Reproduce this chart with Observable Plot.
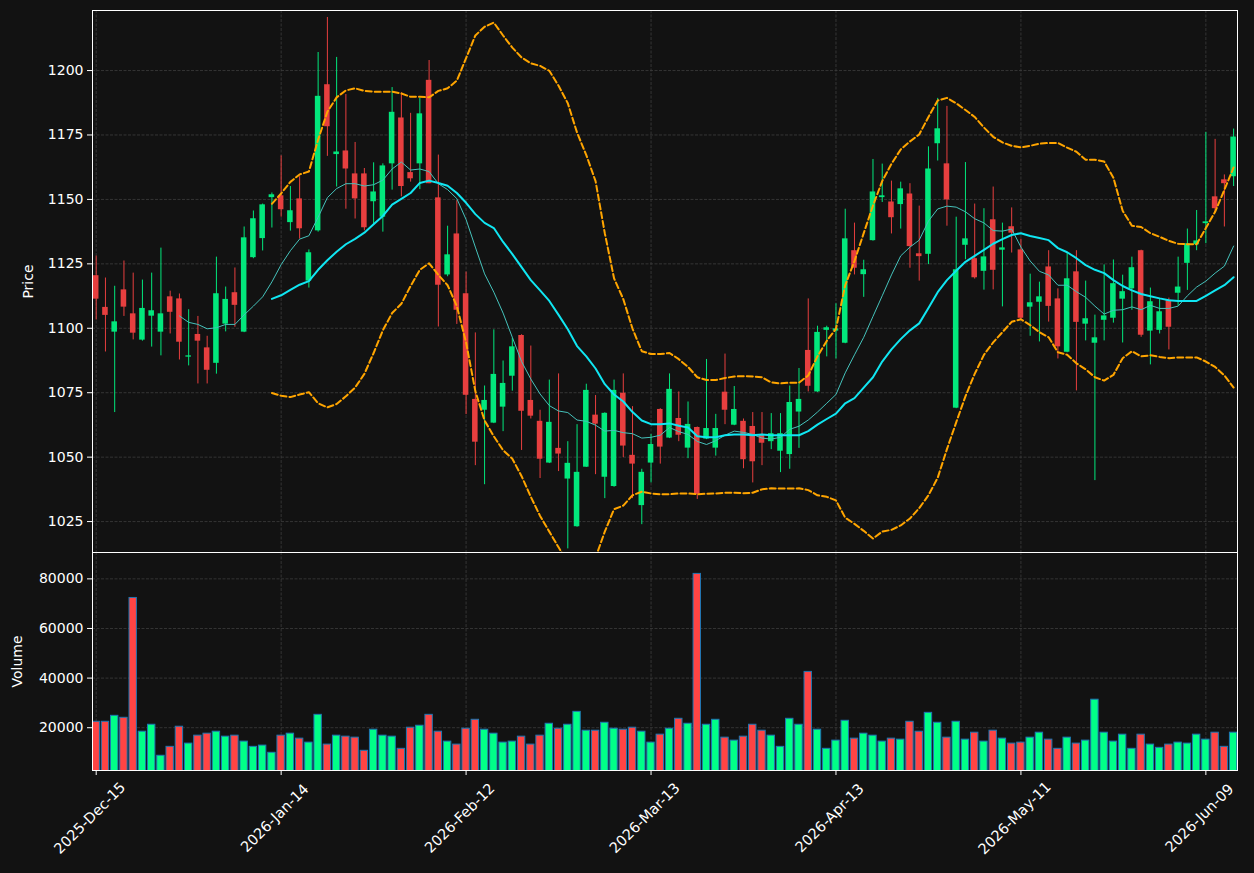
<!DOCTYPE html>
<html>
<head>
<meta charset="utf-8">
<script src="https://cdn.jsdelivr.net/npm/d3@7"></script>
<script src="https://cdn.jsdelivr.net/npm/@observablehq/plot@0.6"></script>
<style>
  html, body { margin: 0; padding: 0; background: #121212; }
  #chart { width: 1254px; height: 873px; background: #121212; }
  #chart svg { display: block; }
</style>
</head>
<body>
<div id="chart"></div>
<script>
// ---- data ----
const tickIndex = [0, 20, 40, 60, 80, 100, 120];
const tickLabels = ["2025-Dec-15", "2026-Jan-14", "2026-Feb-12", "2026-Mar-13", "2026-Apr-13", "2026-May-11", "2026-Jun-09"];
const priceTicks = [1025, 1050, 1075, 1100, 1125, 1150, 1175, 1200];
const volumeTicks = [20000, 40000, 60000, 80000];

const open = [1120.4,1108.1,1098.5,1114.9,1105.6,1095.4,1104.7,1098.5,1112.2,1111.4,
1088.8,1097.6,1092.4,1086.4,1101.6,1113.8,1098.5,1127.4,1134.8,1150.7,
1151.4,1141.0,1150.2,1118.3,1137.8,1194.5,1167.4,1168.8,1159.9,1159.9,
1149.1,1143.1,1163.8,1181.6,1160.4,1163.8,1196.2,1150.6,1120.7,1136.6,
1113.4,1072.4,1068.2,1063.2,1069.4,1081.4,1097.2,1072.0,1063.9,1047.7,
1053.4,1041.5,1023.0,1046.1,1066.3,1042.2,1038.6,1074.8,1050.7,1031.2,
1047.7,1068.5,1057.4,1065.0,1053.5,1061.5,1057.0,1053.5,1075.2,1062.4,
1063.9,1061.9,1058.5,1056.0,1052.3,1051.0,1067.5,1091.4,1075.3,1099.2,
1098.9,1094.2,1130.1,1120.8,1134.0,1150.7,1149.0,1148.0,1152.1,1128.9,
1128.7,1171.6,1163.8,1069.0,1132.2,1127.0,1122.1,1142.1,1130.3,1139.4,
1130.4,1108.2,1110.1,1123.8,1111.4,1090.7,1121.9,1101.6,1094.2,1103.1,
1103.9,1111.3,1115.3,1130.1,1098.9,1099.2,1110.9,1113.6,1125.2,1132.4,
1140.6,1151.0,1157.6,1158.8];
const high = [1128.0,1119.5,1116.3,1126.1,1121.4,1118.7,1121.4,1131.1,1114.4,1113.3,
1107.2,1104.6,1096.9,1127.6,1116.0,1123.4,1139.3,1145.5,1148.2,1152.5,
1166.9,1155.0,1158.8,1130.4,1207.0,1220.6,1205.1,1190.7,1172.1,1162.0,
1164.2,1163.8,1193.4,1191.4,1183.4,1189.2,1203.9,1167.2,1139.6,1149.5,
1121.8,1098.2,1077.6,1099.4,1087.3,1096.2,1097.5,1093.1,1068.2,1079.9,
1082.3,1056.0,1062.6,1078.3,1073.9,1067.2,1079.9,1082.3,1069.6,1045.3,
1058.8,1068.8,1082.3,1075.3,1071.4,1061.7,1087.9,1066.6,1090.0,1077.4,
1064.8,1067.3,1067.3,1066.9,1066.9,1077.6,1084.4,1111.4,1100.8,1100.8,
1109.5,1146.2,1140.8,1126.4,1165.5,1163.7,1157.1,1156.7,1156.1,1147.4,
1170.4,1189.2,1186.1,1143.1,1164.3,1148.2,1146.4,1154.8,1140.8,1146.7,
1134.6,1121.0,1117.9,1130.1,1115.3,1129.2,1130.1,1118.3,1105.1,1124.6,
1126.5,1120.6,1127.6,1130.3,1115.6,1111.6,1111.7,1127.6,1138.5,1145.7,
1176.0,1173.3,1159.5,1177.3];
const low = [1103.2,1090.8,1067.3,1104.6,1095.5,1095.0,1092.7,1089.3,1097.8,1087.7,
1085.4,1078.4,1078.4,1082.2,1098.6,1100.4,1098.3,1127.0,1130.0,1138.9,
1143.1,1137.7,1134.6,1115.6,1137.3,1166.7,1154.8,1146.2,1142.4,1137.8,
1140.4,1137.3,1153.6,1151.0,1156.7,1153.8,1156.1,1100.5,1120.0,1101.5,
1066.5,1046.7,1039.3,1063.0,1059.9,1075.6,1052.6,1064.8,1041.7,1047.5,
1044.4,1014.4,1022.8,1046.0,1043.2,1033.9,1038.3,1049.8,1033.9,1023.8,
1040.0,1047.3,1057.2,1056.0,1049.4,1033.6,1056.8,1050.4,1062.6,1062.2,
1045.5,1040.0,1046.7,1052.9,1044.0,1045.3,1053.4,1075.3,1075.1,1088.9,
1088.1,1094.0,1120.7,1112.0,1133.8,1148.8,1136.6,1138.5,1123.3,1118.3,
1124.7,1164.9,1139.6,1068.8,1126.6,1119.1,1114.8,1114.9,1108.3,1129.2,
1103.2,1096.9,1094.7,1102.4,1088.1,1090.5,1075.7,1095.1,1040.9,1095.1,
1102.0,1094.3,1107.0,1096.5,1085.8,1097.8,1091.6,1108.6,1114.7,1130.1,
1132.8,1144.7,1139.3,1155.0];
const close = [1111.3,1105.0,1102.5,1108.2,1098.1,1107.7,1106.8,1105.6,1106.2,1094.6,
1089.3,1095.0,1083.7,1113.4,1111.2,1108.9,1135.1,1142.5,1147.9,1151.8,
1146.0,1145.6,1138.6,1129.3,1190.0,1178.2,1168.4,1161.8,1150.2,1139.0,
1152.9,1163.0,1183.8,1155.0,1158.0,1183.2,1156.1,1116.7,1128.5,1107.0,
1074.0,1055.8,1072.0,1082.1,1078.6,1092.8,1067.8,1065.9,1049.2,1063.5,
1051.2,1047.6,1044.1,1075.9,1062.8,1067.0,1075.9,1054.3,1047.3,1044.1,
1054.9,1053.9,1076.3,1058.5,1062.7,1035.5,1061.1,1061.1,1068.2,1068.5,
1049.0,1048.2,1055.4,1059.1,1059.1,1071.2,1072.4,1077.5,1098.4,1100.2,
1099.8,1134.7,1123.3,1122.7,1152.9,1151.4,1142.9,1154.1,1131.7,1127.8,
1161.8,1177.4,1149.8,1122.7,1134.7,1119.6,1127.7,1122.5,1131.2,1136.9,
1103.9,1109.9,1112.2,1108.5,1092.8,1119.2,1102.3,1103.7,1096.3,1104.8,
1117.3,1114.2,1123.5,1097.3,1110.3,1106.4,1100.4,1116.0,1132.8,1133.9,
1141.3,1146.4,1156.1,1174.2];
const volume = [22400,22400,24800,24000,72300,18400,21200,8700,12300,20400,
13600,16800,17600,18400,16400,16800,14400,12300,12800,9900,
16800,17600,15600,14000,25200,13200,16800,16400,16000,10700,
19200,16800,16400,11500,20000,20800,25200,18400,14400,13200,
19600,23200,19200,17600,14000,14400,16400,13200,16800,21600,
19600,21200,26400,18800,18800,22000,19600,19200,20000,18400,
14000,17200,19600,23600,21600,82000,21200,23200,16000,14800,
16400,21200,18800,16800,12300,23600,21200,42500,19200,11500,
14800,22800,15600,17600,16800,14400,15600,15200,22400,18400,
26000,22000,16000,22400,15200,18000,14400,18800,15600,13600,
14000,16000,18000,15200,11500,16000,13600,14800,31300,18000,
14400,17200,11500,17200,13200,11900,13200,14000,13600,17200,
15200,18000,12300,18000];
const ma10 = [null,null,null,null,null,null,null,null,null,1104.8,
1102.3,1101.5,1099.8,1100.2,1101.5,1101.5,1105.2,1108.6,1112.2,1118.0,
1124.7,1130.1,1134.6,1135.9,1143.1,1150.7,1154.2,1156.1,1156.1,1155.2,
1155.7,1157.5,1161.8,1164.5,1161.4,1161.8,1160.8,1156.1,1153.8,1150.3,
1142.2,1131.5,1121.1,1114.0,1105.9,1096.5,1087.1,1080.3,1074.5,1070.0,
1067.9,1067.3,1064.4,1063.9,1062.4,1060.1,1060.4,1059.5,1059.1,1057.4,
1057.7,1058.5,1061.5,1059.9,1058.8,1056.1,1054.9,1056.4,1058.5,1060.1,
1059.6,1058.8,1057.4,1057.0,1057.7,1060.8,1062.0,1064.4,1067.5,1070.9,
1074.3,1082.7,1089.7,1096.5,1104.6,1112.6,1120.7,1128.1,1131.5,1134.2,
1141.6,1146.3,1147.4,1147.0,1145.2,1142.5,1140.9,1137.9,1137.7,1138.5,
1131.5,1126.1,1122.1,1120.7,1116.7,1116.7,1114.2,1112.0,1108.6,1105.5,
1107.0,1107.2,1108.3,1107.2,1108.9,1107.7,1107.7,1108.6,1112.6,1116.0,
1118.3,1121.4,1124.1,1131.9];
const ma20 = [null,null,null,null,null,null,null,null,null,null,
null,null,null,null,null,null,null,null,null,1111.4,
1112.8,1114.9,1116.9,1118.3,1122.7,1126.4,1129.7,1132.6,1134.7,1137.1,
1140.4,1143.6,1148.0,1150.2,1152.5,1156.4,1157.3,1156.4,1155.3,1152.5,
1148.7,1144.3,1140.9,1138.9,1133.5,1128.8,1123.7,1118.7,1114.7,1110.6,
1105.2,1099.6,1093.1,1089.1,1084.4,1078.3,1074.3,1071.6,1067.5,1064.2,
1062.8,1062.8,1063.1,1062.2,1061.5,1058.1,1057.7,1057.7,1058.5,1058.8,
1058.8,1058.5,1058.8,1058.5,1058.5,1058.5,1058.5,1060.1,1062.6,1064.8,
1066.9,1070.9,1072.9,1077.0,1081.0,1087.1,1091.8,1095.8,1099.2,1101.9,
1107.9,1114.0,1118.7,1122.3,1125.8,1128.1,1130.4,1132.8,1134.6,1136.2,
1136.9,1135.8,1135.0,1134.2,1131.1,1129.5,1127.2,1124.5,1122.7,1121.4,
1118.7,1116.4,1114.7,1113.3,1112.4,1111.6,1110.9,1110.6,1110.6,1110.6,
1112.6,1114.7,1116.7,1119.8];
const bandUpper = [null,null,null,null,null,null,null,null,null,null,
null,null,null,null,null,null,null,null,null,1148.3,
1152.3,1156.8,1159.7,1160.8,1173.2,1184.0,1189.6,1192.3,1193.1,1192.1,
1191.8,1191.8,1191.8,1191.1,1189.8,1189.8,1189.6,1192.1,1193.1,1196.1,
1204.8,1213.6,1217.0,1218.6,1213.6,1208.9,1205.1,1202.8,1201.8,1199.9,
1194.1,1187.3,1175.9,1167.2,1157.1,1136.9,1119.4,1111.3,1099.8,1091.1,
1090.0,1090.0,1090.4,1088.0,1085.0,1081.0,1079.9,1079.9,1080.7,1081.3,
1081.4,1081.3,1081.0,1079.0,1078.6,1078.9,1078.9,1081.7,1089.1,1095.1,
1099.8,1116.7,1126.1,1136.9,1147.6,1157.1,1163.8,1169.4,1172.5,1175.2,
1182.0,1188.4,1189.4,1187.3,1184.7,1182.0,1177.9,1174.3,1172.1,1170.8,
1170.2,1170.8,1171.6,1171.9,1171.9,1170.1,1168.5,1165.4,1165.4,1164.7,
1158.4,1145.6,1139.8,1139.3,1136.9,1135.5,1133.9,1132.8,1132.6,1132.6,
1138.9,1145.2,1153.7,1162.4];
const bandLower = [null,null,null,null,null,null,null,null,null,null,
null,null,null,null,null,null,null,null,null,1074.9,
1073.8,1073.3,1074.3,1075.2,1070.9,1069.3,1070.6,1073.6,1077.0,1082.3,
1090.4,1099.2,1105.9,1109.5,1116.4,1122.7,1125.2,1120.7,1116.7,1108.6,
1094.5,1075.6,1064.2,1058.1,1052.7,1049.4,1042.6,1034.6,1027.2,1021.1,
1015.0,1009.0,1006.0,1008.0,1011.0,1021.1,1029.8,1031.2,1035.2,1036.6,
1035.9,1035.6,1035.6,1035.9,1035.9,1035.6,1035.8,1035.9,1036.2,1036.2,
1036.0,1036.2,1037.5,1037.9,1037.8,1037.8,1037.9,1037.2,1035.2,1034.6,
1033.2,1026.5,1024.1,1021.4,1018.4,1021.1,1021.8,1023.5,1026.2,1030.2,
1035.2,1042.0,1053.1,1063.5,1073.6,1082.3,1089.7,1094.5,1098.5,1102.5,
1103.5,1101.2,1098.5,1096.5,1090.7,1089.7,1086.4,1084.1,1081.0,1079.7,
1081.9,1088.4,1091.1,1089.1,1089.5,1088.9,1088.4,1088.7,1088.7,1088.7,
1087.1,1085.0,1081.7,1077.0];

// ---- styling ----
const BG = "#121212";
const FG = "#ffffff";
const GRID = "#3d3d3d";
const candleUp = "#02e77c", candleDown = "#e73f3f";
const volUp = "#00ff88", volDown = "#ff4444";
const FONT = "DejaVu Sans, sans-serif";

const idx = d3.range(open.length);
const isUp = i => close[i] >= open[i];
const xDomain = [-0.4, 123.42];
const W = 1254, ML = 92, MR = 17;

const gridStyle = {stroke: GRID, strokeOpacity: 1, strokeWidth: 0.8, strokeDasharray: "3,1.5"};
const plain = d => String(d);

const pricePlot = Plot.plot({
  width: W, height: 552,
  marginTop: 10, marginBottom: 0, marginLeft: ML, marginRight: MR,
  style: {background: BG, color: FG, fontFamily: FONT, fontSize: "14px", overflow: "visible"},
  x: {type: "linear", domain: xDomain, axis: null},
  y: {type: "linear", domain: [1013, 1223.3], axis: null},
  color: {type: "identity"},
  marks: [
    Plot.gridY(priceTicks, gridStyle),
    Plot.gridX(tickIndex, gridStyle),
    Plot.ruleX(idx, {x: i => i, y1: i => low[i], y2: i => high[i],
      stroke: i => isUp(i) ? candleUp : candleDown, strokeWidth: 1, clip: true}),
    Plot.rect(idx, {x1: i => i - 0.3, x2: i => i + 0.3,
      y1: i => Math.min(open[i], close[i]), y2: i => Math.max(open[i], close[i]),
      fill: i => isUp(i) ? candleUp : candleDown, clip: true}),
    Plot.line(idx, {x: i => i, y: i => bandUpper[i], stroke: "#ffa500", strokeWidth: 2,
      strokeDasharray: "6,3", clip: true}),
    Plot.line(idx, {x: i => i, y: i => bandLower[i], stroke: "#ffa500", strokeWidth: 2,
      strokeDasharray: "6,3", clip: true}),
    Plot.line(idx, {x: i => i, y: i => ma10[i], stroke: "#45c2bb", strokeWidth: 1, clip: true}),
    Plot.line(idx, {x: i => i, y: i => ma20[i], stroke: "#10e6f2", strokeWidth: 2, clip: true}),
    Plot.frame({stroke: FG, strokeWidth: 1}),
    Plot.axisY(priceTicks, {anchor: "left", tickSize: 5, tickPadding: 4, stroke: FG, fill: FG,
      label: null, fontSize: 14, tickFormat: plain}),
    Plot.text(["Price"], {frameAnchor: "left", dx: -64, rotate: -90, textAnchor: "middle",
      fill: FG, fontSize: 14})
  ]
});

const volumePlot = Plot.plot({
  width: W, height: 321,
  marginTop: 0, marginBottom: 103, marginLeft: ML, marginRight: MR,
  style: {background: BG, color: FG, fontFamily: FONT, fontSize: "14px", overflow: "visible"},
  x: {type: "linear", domain: xDomain, axis: null},
  y: {type: "linear", domain: [2760, 90625], axis: null},
  color: {type: "identity"},
  marks: [
    Plot.gridY(volumeTicks, gridStyle),
    Plot.gridX(tickIndex, gridStyle),
    Plot.rect(idx, {x1: i => i - 0.4, x2: i => i + 0.4, y1: 0, y2: i => volume[i],
      fill: i => isUp(i) ? volUp : volDown, stroke: "#1f77b4", strokeWidth: 1, clip: true}),
    Plot.frame({stroke: FG, strokeWidth: 1}),
    Plot.axisY(volumeTicks, {anchor: "left", tickSize: 5, tickPadding: 4, stroke: FG, fill: FG,
      label: null, fontSize: 14, tickFormat: plain}),
    Plot.axisX(tickIndex, {anchor: "bottom", tickSize: 5, stroke: FG, tickFormat: () => "", label: null}),
    Plot.text(tickIndex, {x: i => i, text: i => tickLabels[tickIndex.indexOf(i)],
      frameAnchor: "bottom", dx: -3, dy: 51, rotate: -45, textAnchor: "middle",
      fill: FG, fontSize: 14.5}),
    Plot.text(["Volume"], {frameAnchor: "left", dx: -75, rotate: -90, textAnchor: "middle",
      fill: FG, fontSize: 14})
  ]
});

const root = document.getElementById("chart");
root.appendChild(pricePlot);
root.appendChild(volumePlot);
</script>
</body>
</html>
